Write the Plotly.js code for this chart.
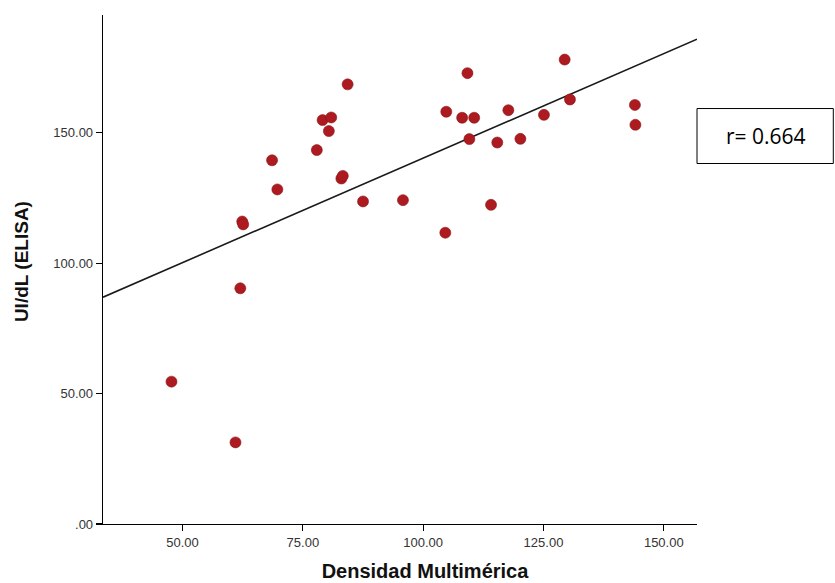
<!DOCTYPE html>
<html>
<head>
<meta charset="utf-8">
<script src="https://cdn.plot.ly/plotly-3.0.1.min.js"></script>
<style>html,body{margin:0;padding:0;background:#fff;}#chart{width:835px;height:583px;}</style>
</head>
<body>
<div id="chart"></div>
<script>
// Densidad Multimérica (x) vs UI/dL ELISA (y)
const densidad = [47.7, 61.0, 62.0, 62.4, 62.6, 68.6, 69.7, 77.9, 79.1, 80.9, 80.4, 84.3, 83.0, 83.3, 87.5, 95.8,
                  104.6, 104.8, 109.2, 108.1, 110.6, 109.6, 114.1, 115.4, 117.7, 120.2, 125.1, 129.4, 130.5, 144.0, 144.1];
const elisa    = [54.6, 31.3, 90.4, 116.0, 114.9, 139.5, 128.3, 143.4, 154.9, 155.9, 150.7, 168.6, 132.5, 133.5, 123.7, 124.2,
                  111.7, 158.1, 172.9, 155.8, 155.8, 147.6, 122.4, 146.3, 158.7, 147.7, 156.9, 178.1, 162.8, 160.7, 153.1];
const fitIntercept = 60.17;
const fitSlope = 0.8015;
const xRange = [33.47, 156.9];
const yRange = [0, 195.2];
const xTickVals = [50, 75, 100, 125, 150];
const xTickText = ['50.00', '75.00', '100.00', '125.00', '150.00'];
const yTickVals = [0, 50, 100, 150];
const yTickText = ['.00', '50.00', '100.00', '150.00'];
const xTitle = 'Densidad Multimérica';
const yTitle = 'UI/dL (ELISA)';
const rLabel = 'r= 0.664';

const fitX = xRange.slice();
const fitY = fitX.map(v => fitIntercept + fitSlope * v);
const pad = n => '&nbsp;'.repeat(n);

const traces = [
  {
    x: fitX, y: fitY, type: 'scatter', mode: 'lines',
    line: {color: '#1a1a1a', width: 1.6}, hoverinfo: 'skip', cliponaxis: true
  },
  {
    x: densidad, y: elisa, type: 'scatter', mode: 'markers',
    marker: {size: 11, color: '#ad1a1f', line: {color: '#8a1417', width: 0.6}}
  }
];

const layout = {
  width: 835, height: 583,
  margin: {l: 102.7, r: 138.3, t: 14.7, b: 59},
  paper_bgcolor: '#ffffff', plot_bgcolor: '#ffffff',
  showlegend: false,
  font: {family: 'Liberation Sans, Arial, sans-serif', color: '#222'},
  xaxis: {
    range: xRange, tickvals: xTickVals, ticktext: xTickText,
    showgrid: false, zeroline: false, showline: true, linecolor: '#000', linewidth: 1.3,
    ticks: 'outside', ticklen: 6, tickcolor: '#000', tickwidth: 1.2,
    tickfont: {size: 13, color: '#333'},
    title: {text: pad(9) + '<b>' + xTitle + '</b>', font: {size: 20, color: '#111', family: 'Liberation Sans, Arial, sans-serif'}, standoff: 15}
  },
  yaxis: {
    range: yRange, tickvals: yTickVals, ticktext: yTickText,
    showgrid: false, zeroline: false, showline: true, linecolor: '#000', linewidth: 1.3,
    ticks: 'outside', ticklen: 6, tickcolor: '#000', tickwidth: 1.2,
    tickfont: {size: 13, color: '#333'},
    title: {text: pad(3) + '<b>' + yTitle + '</b>', font: {size: 19, color: '#111', family: 'Liberation Sans, Arial, sans-serif'}, standoff: 19}
  },
  shapes: [
    {type: 'rect', xref: 'paper', yref: 'paper',
     x0: 1.0, x1: (833 - 102.7) / 594, y0: (524 - 163.3) / 509.3, y1: (524 - 108.3) / 509.3,
     line: {color: '#000', width: 1}, fillcolor: 'rgba(0,0,0,0)'}
  ],
  annotations: [
    {xref: 'paper', yref: 'paper', x: (766 - 102.7) / 594, y: (524 - 136) / 509.3,
     text: rLabel, showarrow: false, xanchor: 'center', yanchor: 'middle',
     font: {size: 21, color: '#000', family: 'Open Sans, Liberation Sans, sans-serif'}}
  ]
};

Plotly.newPlot('chart', traces, layout, {displayModeBar: false, staticPlot: true});
</script>
</body>
</html>
